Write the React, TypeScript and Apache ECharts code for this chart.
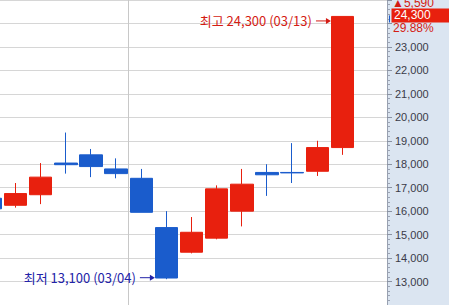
import React, { useEffect, useRef } from "react";
import * as echarts from "echarts";

const dates = ["02/21", "02/24", "02/25", "02/26", "02/27", "02/28", "03/03", "03/04", "03/05", "03/06", "03/07", "03/10", "03/11", "03/12", "03/13"];
const opens = [16550, 16250, 16700, 18050, 18400, 17800, 17400, 15300, 14250, 14850, 16000, 17650, 17650, 17700, 18710];
const closes = [16100, 16750, 17450, 17980, 17900, 17600, 15950, 13150, 15100, 16950, 17150, 17550, 17630, 18710, 24300];
const lows = [16000, 16150, 16300, 17600, 17450, 17400, 15950, 13100, 14200, 14800, 15350, 16650, 17200, 17500, 18400];
const highs = [16600, 17200, 18050, 19350, 18650, 18250, 17800, 16000, 15750, 17100, 17800, 18000, 18900, 19000, 24300];
const monthBoundary = 5.5; // between 02/28 and 03/03
const prevClose = 18710;

const UP = "#e8200e";
const DOWN = "#1a5ccc";
const RED_TEXT = "#d41c14";
const BLUE_TEXT = "#2323a8";

const fmt = (v: number) => v.toLocaleString("en-US");

export default function App() {
  const ref = useRef<HTMLDivElement>(null);
  useEffect(() => {
    if (!ref.current) return;
    const chart = echarts.init(ref.current, undefined, { renderer: "svg" });
    const data = dates.map((_, i) => [i, opens[i], closes[i], lows[i], highs[i]]);
    chart.setOption({
      animation: false,
      backgroundColor: "#ffffff",
      grid: { left: 0, right: 62, top: -6.3, bottom: -10.45, containLabel: false },
      xAxis: {
        type: "value",
        min: 0.3837,
        max: 15.771,
        show: false,
      },
      yAxis: {
        type: "value",
        position: "right",
        min: 12000,
        max: 25000,
        interval: 1000,
        scale: true,
        axisLine: { show: true, lineStyle: { color: "#98a0b0", width: 1 } },
        axisTick: { show: true, length: 5, lineStyle: { color: "#8a92a2" } },
        minorTick: { show: true, splitNumber: 5, length: 3, lineStyle: { color: "#9aa2b2" } },
        splitLine: { show: true, lineStyle: { color: "#d6d6d6", width: 1 } },
        axisLabel: {
          margin: 8,
          fontSize: 11,
          fontFamily: "Liberation Sans, Arial, sans-serif",
          color: "#3a3a48",
          showMinLabel: false,
          showMaxLabel: false,
          formatter: (v: number) => (v >= 24000 || v <= 12000 ? "" : fmt(v)),
        },
      },
      series: [
        {
          type: "candlestick",
          data,
          barWidth: 23,
          encode: { x: 0, y: [1, 2, 3, 4] },
          itemStyle: {
            color: UP,
            color0: DOWN,
            borderColor: UP,
            borderColor0: DOWN,
            borderWidth: 1,
          },
          markLine: {
            silent: true,
            symbol: ["none", "none"],
            label: { show: false },
            lineStyle: { color: "#c8c8c8", type: "solid", width: 1 },
            data: [{ xAxis: monthBoundary }],
          },
        },
      ],
    });

    const px = (i: number, v: number) => chart.convertToPixel({ seriesIndex: 0 }, [i, v]) as number[];
    let hi = 0, lo = 0;
    highs.forEach((h, i) => { if (h > highs[hi]) hi = i; });
    lows.forEach((l, i) => { if (l < lows[lo]) lo = i; });
    const [hx, hy] = px(hi, highs[hi]);
    const [lx, ly] = px(lo, lows[lo]);
    const last = closes[closes.length - 1];
    const [, py] = px(closes.length - 1, last);
    const change = last - prevClose;
    const rate = ((change / prevClose) * 100).toFixed(2) + "%";

    const arrow = (tipX: number, y: number, color: string, text: string) => [
      { type: "line", shape: { x1: tipX - 15, y1: y + 0.5, x2: tipX - 4, y2: y + 0.5 }, style: { stroke: color, lineWidth: 1 }, z: 50 },
      { type: "polygon", shape: { points: [[tipX, y + 0.5], [tipX - 5, y - 2.5], [tipX - 5, y + 3.5]] }, style: { fill: color }, z: 50 },
      {
        type: "text", x: tipX - 19, y, z: 50,
        style: { text, fill: color, font: "13px 'Noto Sans CJK KR', sans-serif", textAlign: "right", textVerticalAlign: "middle" },
      },
    ];

    const axisX = 387;
    chart.setOption({
      graphic: [
        { type: "rect", shape: { x: axisX + 0.5, y: 0, width: 449 - axisX, height: 305 }, style: { fill: "#dbe5f1" }, z: -10, silent: true },
        ...arrow(hx - 11.5, hy + 4, RED_TEXT, `최고 ${fmt(highs[hi])} (${dates[hi]})`),
        ...arrow(lx - 11.5, ly - 2, BLUE_TEXT, `최저 ${fmt(lows[lo])} (${dates[lo]})`),
        {
          type: "text", x: axisX + 5, y: py - 13, z: 60,
          style: { text: "▲" + fmt(change), fill: RED_TEXT, font: "12px 'Liberation Sans', Arial, sans-serif", textVerticalAlign: "middle" },
        },
        { type: "rect", shape: { x: axisX + 4.5, y: py - 8, width: 60, height: 14 }, style: { fill: UP }, z: 61 },
        { type: "line", shape: { x1: axisX + 2.5, y1: py - 1, x2: axisX + 2.5, y2: py + 6 }, style: { stroke: DOWN, lineWidth: 1 }, z: 61 },
        {
          type: "text", x: axisX + 7, y: py - 1, z: 62,
          style: { text: fmt(last), fill: "#ffffff", font: "12px 'Liberation Sans', Arial, sans-serif", textVerticalAlign: "middle" },
        },
        {
          type: "text", x: axisX + 6, y: py + 12, z: 62,
          style: { text: rate, fill: RED_TEXT, font: "12px 'Liberation Sans', Arial, sans-serif", textVerticalAlign: "middle" },
        },
      ],
    });
    return () => chart.dispose();
  }, []);
  return <div ref={ref} style={{ position: "fixed", left: 0, top: 0, width: 449, height: 305 }} />;
}
